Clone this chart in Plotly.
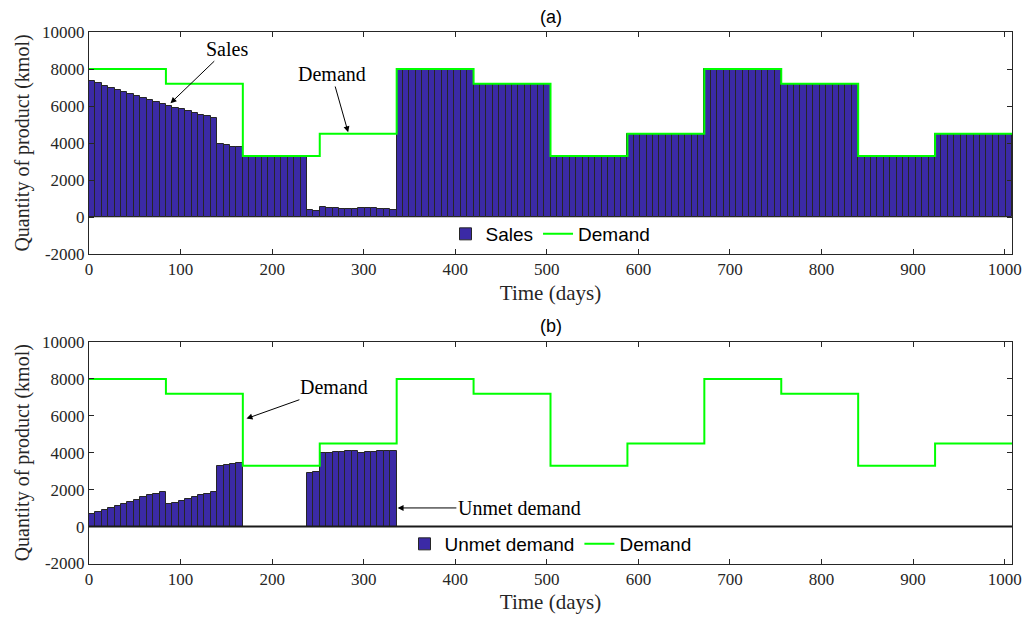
import numpy as np
import plotly.graph_objects as go
from plotly.subplots import make_subplots

# Weekly sales (kmol), one value per 7-day bar
sales = [
    7334, 7226, 7100, 6992, 6866, 6758, 6650, 6542, 6416, 6308, 6218, 6110,
    5994, 5904, 5814, 5706, 5616, 5508, 5436, 5346, 3942, 3870, 3800, 3762,
    3300, 3300, 3300, 3300, 3300, 3300, 3300, 3300, 3300, 3300, 380, 320,
    540, 504, 486, 450, 432, 414, 504, 486, 468, 432, 414, 396,
    8000, 8000, 8000, 8000, 8000, 8000, 8000, 8000, 8000, 8000, 8000, 8000,
    7200, 7200, 7200, 7200, 7200, 7200, 7200, 7200, 7200, 7200, 7200, 7200,
    3300, 3300, 3300, 3300, 3300, 3300, 3300, 3300, 3300, 3300, 3300, 3300,
    4500, 4500, 4500, 4500, 4500, 4500, 4500, 4500, 4500, 4500, 4500, 4500,
    8000, 8000, 8000, 8000, 8000, 8000, 8000, 8000, 8000, 8000, 8000, 8000,
    7200, 7200, 7200, 7200, 7200, 7200, 7200, 7200, 7200, 7200, 7200, 7200,
    3300, 3300, 3300, 3300, 3300, 3300, 3300, 3300, 3300, 3300, 3300, 3300,
    4500, 4500, 4500, 4500, 4500, 4500, 4500, 4500, 4500, 4500, 4500, 4500,
]

# Weekly unmet demand (kmol)
unmet = [
    666, 774, 900, 1008, 1134, 1242, 1350, 1458, 1584, 1692, 1782, 1890,
    1206, 1296, 1386, 1494, 1584, 1692, 1764, 1854, 3258, 3330, 3400, 3438,
    0, 0, 0, 0, 0, 0, 0, 0, 0, 0, 2920, 2980,
    3960, 3996, 4014, 4050, 4068, 4086, 3996, 4014, 4032, 4068, 4086, 4104,
    0, 0, 0, 0, 0, 0, 0, 0, 0, 0, 0, 0,
    0, 0, 0, 0, 0, 0, 0, 0, 0, 0, 0, 0,
    0, 0, 0, 0, 0, 0, 0, 0, 0, 0, 0, 0,
    0, 0, 0, 0, 0, 0, 0, 0, 0, 0, 0, 0,
    0, 0, 0, 0, 0, 0, 0, 0, 0, 0, 0, 0,
    0, 0, 0, 0, 0, 0, 0, 0, 0, 0, 0, 0,
    0, 0, 0, 0, 0, 0, 0, 0, 0, 0, 0, 0,
    0, 0, 0, 0, 0, 0, 0, 0, 0, 0, 0, 0,
]

# Demand level for each 84-day period
demand_levels = [8000, 7200, 3300, 4500, 8000, 7200, 3300, 4500, 8000, 7200, 3300, 4500]
period_days = 84
week_days = 7

x_ticks = [0, 100, 200, 300, 400, 500, 600, 700, 800, 900, 1000]
y_ticks = [-2000, 0, 2000, 4000, 6000, 8000, 10000]
y_tick_labels = ["-2000", "0", "2000", "4000", "6000", "8000", "10000"]

bar_x = np.arange(len(sales)) * week_days + week_days / 2
step_x = list(np.arange(len(demand_levels) + 1) * period_days)
step_y = demand_levels + [demand_levels[-1]]
t_end = step_x[-1]

BAR = "#3b2aa6"
EDGE = "#262626"
GREEN = "#00ff00"
AX = "#262626"
SERIF = "Liberation Serif"
SANS = "Liberation Sans"

W, H = 1029, 619
fig = make_subplots(rows=2, cols=1)

fig.add_trace(go.Bar(x=bar_x, y=sales, width=week_days, name="Sales",
                     marker=dict(color=BAR, line=dict(color=EDGE, width=1)),
                     legend="legend"), row=1, col=1)
fig.add_trace(go.Scatter(x=step_x, y=step_y, mode="lines", line_shape="hv",
                         line=dict(color=GREEN, width=2), name="Demand",
                         legend="legend"), row=1, col=1)
fig.add_trace(go.Bar(x=bar_x, y=unmet, width=week_days, name="Unmet demand",
                     marker=dict(color=BAR, line=dict(color=EDGE, width=1)),
                     legend="legend2"), row=2, col=1)
fig.add_trace(go.Scatter(x=step_x, y=step_y, mode="lines", line_shape="hv",
                         line=dict(color=GREEN, width=2), name="Demand",
                         legend="legend2"), row=2, col=1)

def ypaper(py):
    return 1 - py / H

axis_common = dict(showline=True, mirror="ticks", linecolor=AX, linewidth=1,
                   ticks="inside", ticklen=5, tickcolor=AX, showgrid=False,
                   zeroline=False, automargin=False,
                   tickfont=dict(family=SERIF, size=17, color=AX))

for r, (top, bot) in enumerate([(32, 254), (342, 563.5)], start=1):
    xa = "xaxis" if r == 1 else "xaxis2"
    ya = "yaxis" if r == 1 else "yaxis2"
    fig.layout[xa].update(range=[0, t_end], tickvals=x_ticks,
                          title=dict(text="Time (days)", standoff=6,
                                     font=dict(family=SERIF, size=21, color=AX)),
                          **axis_common)
    fig.layout[ya].update(range=[-2000, 10000], tickvals=y_ticks,
                          ticktext=y_tick_labels,
                          domain=[ypaper(bot), ypaper(top)],
                          title=dict(text="Quantity of product (kmol)", standoff=7,
                                     font=dict(family=SERIF, size=20, color=AX)),
                          **axis_common)

# baselines under the bars
fig.add_shape(type="line", x0=0, x1=t_end, y0=0, y1=0, xref="x", yref="y",
              line=dict(color="#8c8c8c", width=1), layer="below")
fig.add_shape(type="line", x0=0, x1=t_end, y0=0, y1=0, xref="x2", yref="y2",
              line=dict(color="#1a1a1a", width=2))

ann_font = dict(family=SERIF, size=20, color="black")

def pointer(text, xref, yref, x, y, ax, ay):
    fig.add_annotation(text=text, x=x, y=y, ax=ax, ay=ay, xref=xref, yref=yref,
                       axref=xref, ayref=yref, showarrow=True, arrowhead=2,
                       arrowsize=1.2, arrowwidth=1, arrowcolor="black",
                       font=ann_font)

pointer("Sales", "x", "y", 89, 6150, 151, 9100)
pointer("Demand", "x", "y", 283, 4580, 265, 7730)
pointer("Demand", "x2", "y2", 172, 5850, 268, 7550)
pointer("Unmet demand", "x2", "y2", 337, 1010, 470, 1010)

for txt, py in [("(a)", 17), ("(b)", 326)]:
    fig.add_annotation(text=txt, x=0.5, y=ypaper(py), xref="paper", yref="paper",
                       showarrow=False, yanchor="middle",
                       font=dict(family=SANS, size=18, color="black"))

legend_common = dict(orientation="h", xanchor="center", yanchor="middle",
                     bgcolor="rgba(255,255,255,0)", borderwidth=0,
                     font=dict(family=SANS, size=19, color="black"),
                     itemwidth=30, tracegroupgap=0)
fig.update_layout(
    width=W, height=H,
    margin=dict(l=89, r=17, t=0, b=0),
    plot_bgcolor="white", paper_bgcolor="white",
    bargap=0,
    legend=dict(x=0.5, y=ypaper(234), **legend_common),
    legend2=dict(x=0.5, y=ypaper(544), **legend_common),
)

fig.write_html("out.html")
